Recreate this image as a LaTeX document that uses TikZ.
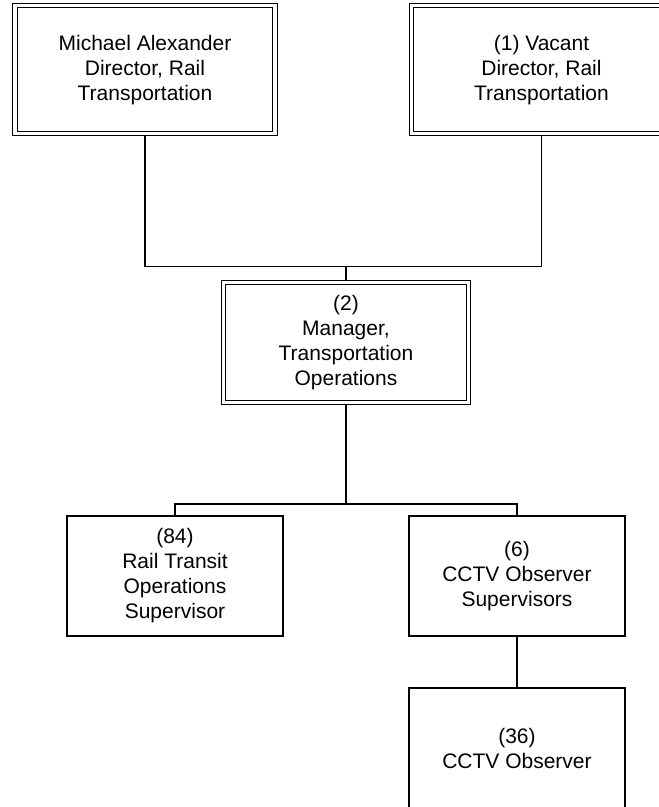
\documentclass[tikz,border=0pt]{standalone}
\usepackage{fontspec}
\setmainfont{Liberation Sans}
\usepackage{tikz}
\newcommand{\orgFont}{\fontsize{21}{25}\selectfont}

\begin{document}
\begin{tikzpicture}[x=1pt,y=-1pt,line width=1.4pt,
  post/.style={draw,fill=white,align=center,font=\orgFont,minimum width=216pt,minimum height=120pt,inner sep=2pt},
  head/.style={post,double,double distance=3.2pt,line width=1.2pt,outer sep=2.8pt}]
 \clip (0,0) rectangle (659,807);
 \node[head,minimum width=260pt,minimum height=128pt] (dirA) at (145,69.6) {Michael Alexander\\Director, Rail\\Transportation};
 \node[head,minimum width=260pt,minimum height=128pt] (dirB) at (541.5,69.6) {(1) Vacant\\Director, Rail\\Transportation};
 \node[head,minimum width=245pt] (mgr) at (346,342.3) {(2)\\Manager,\\Transportation\\Operations};
 \node[post] (rto) at (175,576) {(84)\\Rail Transit\\Operations\\Supervisor};
 \node[post] (cctvSup) at (517,576) {(6)\\CCTV Observer\\Supervisors};
 \node[post] (cctvObs) at (517,748) {(36)\\CCTV Observer};
 \coordinate (topJoin) at (346,266.7);
 \coordinate (midJoin) at (346,504);
 \draw (dirA.south) |- (topJoin) -| (dirB.south);
 \draw (topJoin) -- (mgr.north);
 \draw (mgr.south) -- (midJoin);
 \draw (rto.north) |- (midJoin) -| (cctvSup.north);
 \draw (cctvSup.south) -- (cctvObs.north);
\end{tikzpicture}
\end{document}
